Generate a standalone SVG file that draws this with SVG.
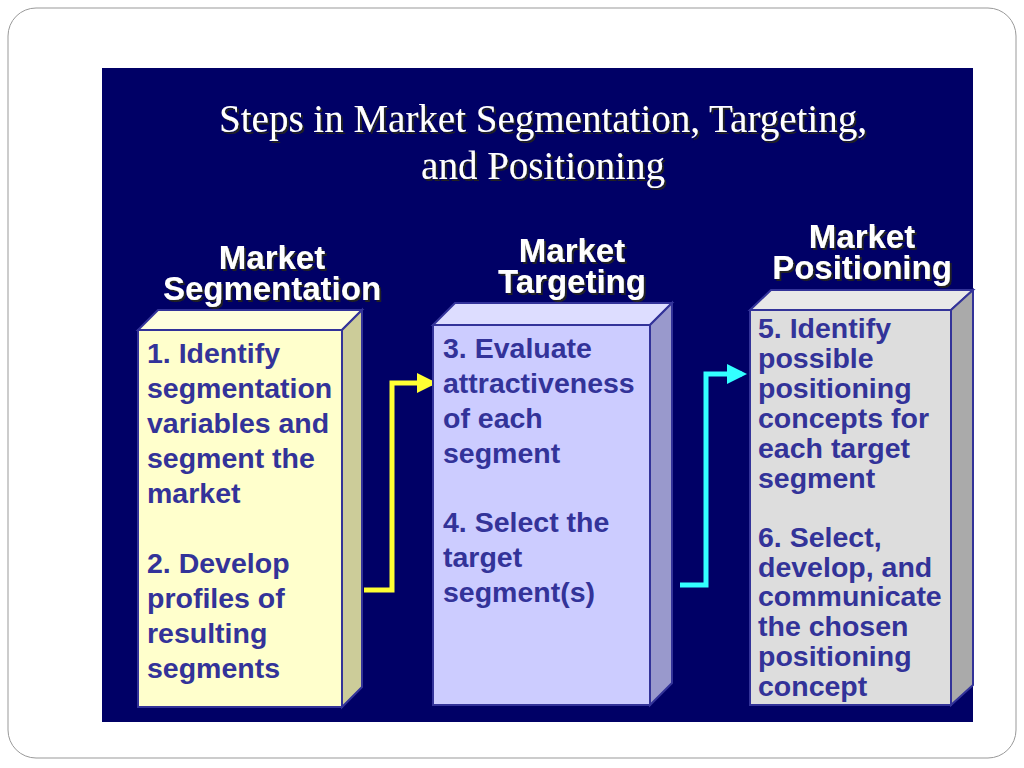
<svg xmlns="http://www.w3.org/2000/svg" width="1024" height="768" viewBox="0 0 1024 768">
<defs>
<style>
.t{font-family:"Liberation Serif",serif;font-size:39px;fill:#fff;text-anchor:middle;filter:url(#sh)}
.h{font-family:"Liberation Sans",sans-serif;font-weight:bold;font-size:33px;fill:#fff;text-anchor:middle;filter:url(#sh)}
.b{font-family:"Liberation Sans",sans-serif;font-weight:bold;font-size:28.5px;fill:#333399}
.bx{stroke:#333399;stroke-width:2}
</style>
<filter id="sh" x="-10%" y="-20%" width="120%" height="140%"><feDropShadow dx="2" dy="2" stdDeviation="0.5" flood-color="#222"/></filter>
<marker id="ay" markerWidth="4" markerHeight="4" refX="3" refY="2" orient="auto"><path d="M0,0L4,2L0,4z" fill="#ffff33"/></marker>
<marker id="ac" markerWidth="4" markerHeight="4" refX="3" refY="2" orient="auto"><path d="M0,0L4,2L0,4z" fill="#33ffff"/></marker>
</defs>
<rect x="8" y="8" width="1008" height="750" rx="28" fill="#fff" stroke="#999" stroke-width="1"/>
<rect x="102" y="68" width="871" height="654" fill="#000066"/>
<g id="title">
<text class="t" x="543" y="132">Steps in Market Segmentation, Targeting,</text>
<text class="t" x="543" y="179">and Positioning</text>
</g>
<g id="headers">
<text class="h" x="272" y="269">Market</text><text class="h" x="272" y="300">Segmentation</text>
<text class="h" x="572" y="262">Market</text><text class="h" x="572" y="293">Targeting</text>
<text class="h" x="862" y="248">Market</text><text class="h" x="862" y="279">Positioning</text>
</g>
<g id="connectors" fill="none" stroke-width="5">
<polyline points="364,590 392,590 392,383 432,383" stroke="#ffff33" marker-end="url(#ay)"/>
<polyline points="680,585 706,585 706,374 742,374" stroke="#33ffff" marker-end="url(#ac)"/>
</g>
<g id="box1">
<polygon class="bx" points="138,330 158,310 362,310 342,330" fill="#ffffdd"/>
<polygon class="bx" points="342,330 362,310 362,687 342,707" fill="#cccc99"/>
<rect class="bx" x="138" y="330" width="204" height="377" fill="#ffffcc"/>
<text class="b"><tspan x="147" y="363">1.  Identify</tspan><tspan x="147" y="398">segmentation</tspan><tspan x="147" y="433">variables and</tspan><tspan x="147" y="468">segment the</tspan><tspan x="147" y="503">market</tspan><tspan x="147" y="573">2.  Develop</tspan><tspan x="147" y="608">profiles of</tspan><tspan x="147" y="643">resulting</tspan><tspan x="147" y="678">segments</tspan></text>
</g>
<g id="box2">
<polygon class="bx" points="433,325 455,303 672,303 650,325" fill="#ddddff"/>
<polygon class="bx" points="650,325 672,303 672,683 650,705" fill="#9999cc"/>
<rect class="bx" x="433" y="325" width="217" height="380" fill="#ccccff"/>
<text class="b"><tspan x="443" y="358">3.  Evaluate</tspan><tspan x="443" y="393">attractiveness</tspan><tspan x="443" y="428">of each</tspan><tspan x="443" y="463">segment</tspan><tspan x="443" y="532">4.  Select the</tspan><tspan x="443" y="567">target</tspan><tspan x="443" y="602">segment(s)</tspan></text>
</g>
<g id="box3">
<polygon class="bx" points="750,310 771,290 973,290 951,310" fill="#e8e8e8"/>
<polygon class="bx" points="951,310 973,290 973,685 951,705" fill="#aaaaaa"/>
<rect class="bx" x="750" y="310" width="201" height="395" fill="#dddddd"/>
<text class="b"><tspan x="758" y="338">5.  Identify</tspan><tspan x="758" y="368">possible</tspan><tspan x="758" y="398">positioning</tspan><tspan x="758" y="428">concepts for</tspan><tspan x="758" y="458">each target</tspan><tspan x="758" y="488">segment</tspan><tspan x="758" y="547">6.  Select,</tspan><tspan x="758" y="577">develop, and</tspan><tspan x="758" y="606">communicate</tspan><tspan x="758" y="636">the chosen</tspan><tspan x="758" y="666">positioning</tspan><tspan x="758" y="696">concept</tspan></text>
</g>
</svg>
